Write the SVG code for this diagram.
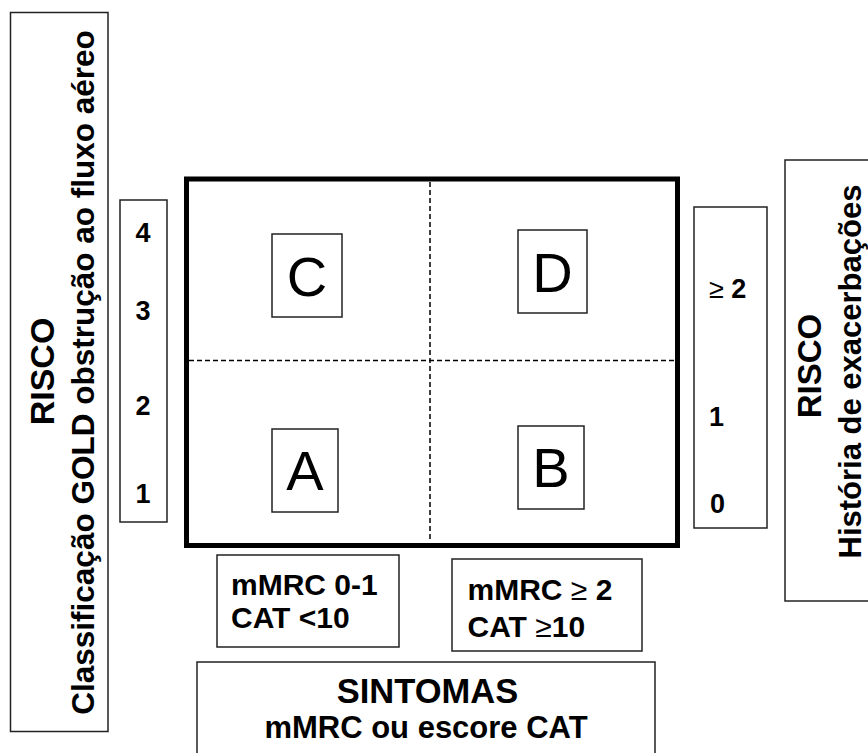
<svg xmlns="http://www.w3.org/2000/svg" width="868" height="753" viewBox="0 0 868 753">
<style>
.box{fill:#fff;stroke:#222;stroke-width:1.5}
.t{font-family:"Liberation Sans",Arial,sans-serif;font-weight:bold;fill:#000}
.big{font-family:"Liberation Sans",Arial,sans-serif;font-size:56px;fill:#000;text-anchor:middle}
.dash{stroke:#000;stroke-width:1.5;stroke-dasharray:5 3;fill:none}
.n{font-weight:normal}
</style>
<rect width="868" height="753" fill="#fff"/>
<g id="risco-left">
<rect class="box" x="10.5" y="12.5" width="97.5" height="719"/>
<text class="t" font-size="34" text-anchor="middle" transform="translate(53.5,371.5) rotate(-90)">RISCO</text>
<text class="t" font-size="31.5" text-anchor="middle" transform="translate(93.5,372.5) rotate(-90)">Classificação GOLD obstrução ao fluxo aéreo</text>
</g>
<g id="risco-right">
<rect class="box" x="785" y="160" width="100" height="441"/>
<text class="t" font-size="33" text-anchor="middle" transform="translate(821,366) rotate(-90)">RISCO</text>
<text class="t" font-size="31" text-anchor="middle" transform="translate(861,371.5) rotate(-90)">História de exacerbações</text>
</g>
<g id="scale-left">
<rect class="box" x="120" y="200" width="47" height="322"/>
<text class="t" font-size="27" text-anchor="middle" x="143" y="241.5">4</text>
<text class="t" font-size="27" text-anchor="middle" x="143" y="320">3</text>
<text class="t" font-size="27" text-anchor="middle" x="143" y="415">2</text>
<text class="t" font-size="27" text-anchor="middle" x="143" y="503">1</text>
</g>
<g id="scale-right">
<rect class="box" x="694" y="207" width="73" height="321"/>
<text class="t" font-size="27" x="709" y="298"><tspan class="n">≥</tspan> 2</text>
<text class="t" font-size="27" x="709" y="426">1</text>
<text class="t" font-size="27" x="710" y="513">0</text>
</g>
<g id="grid">
<rect x="186.5" y="179" width="491" height="366.5" fill="#fff" stroke="#000" stroke-width="5"/>
</g>
<g id="connectors">
<line class="dash" x1="430" y1="182" x2="430" y2="542"/>
<line class="dash" x1="189" y1="360.5" x2="675" y2="360.5"/>
</g>
<g id="C">
<rect class="box" x="272" y="234" width="70" height="83"/>
<text class="big" x="307" y="296">C</text>
</g>
<g id="D">
<rect class="box" x="518" y="230" width="69" height="83"/>
<text class="big" x="552.5" y="291.5">D</text>
</g>
<g id="A">
<rect class="box" x="272" y="429" width="66" height="83"/>
<text class="big" x="305" y="490">A</text>
</g>
<g id="B">
<rect class="box" x="518" y="426" width="66" height="83"/>
<text class="big" x="551" y="487">B</text>
</g>
<g id="sym-low">
<rect class="box" x="217" y="555" width="182" height="92"/>
<text class="t" font-size="30" x="231" y="595">mMRC 0-1</text>
<text class="t" font-size="30" x="231" y="628">CAT &lt;10</text>
</g>
<g id="sym-high">
<rect class="box" x="452" y="559" width="190" height="92"/>
<text class="t" font-size="30" x="467.5" y="599.5">mMRC <tspan class="n">≥</tspan> 2</text>
<text class="t" font-size="30" x="467.5" y="636.5">CAT <tspan class="n">≥</tspan>10</text>
</g>
<g id="sintomas">
<rect class="box" x="197" y="662" width="458" height="100"/>
<text class="t" font-size="34.5" text-anchor="middle" x="427.5" y="703">SINTOMAS</text>
<text class="t" font-size="31" text-anchor="middle" x="426" y="738">mMRC ou escore CAT</text>
</g>
</svg>
